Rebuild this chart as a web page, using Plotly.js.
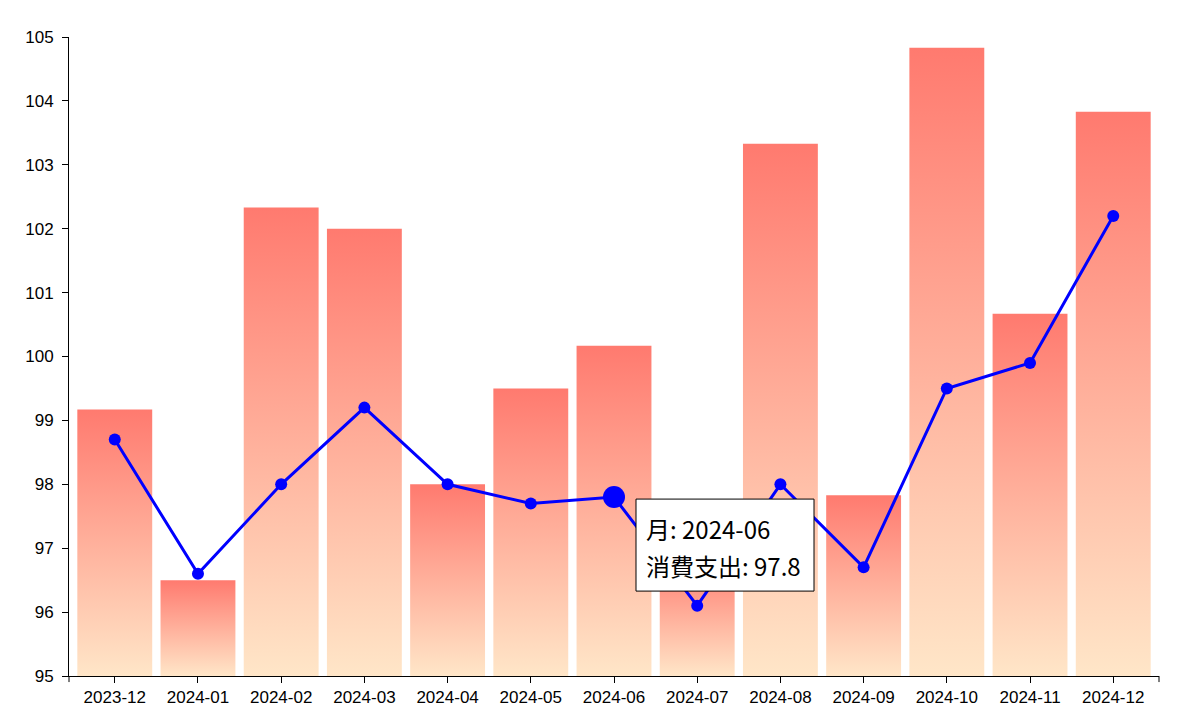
<!DOCTYPE html>
<html>
<head>
<meta charset="utf-8">
<script src="https://cdn.plot.ly/plotly-3.0.1.min.js"></script>
<style>
  html, body { margin: 0; padding: 0; background: #fff; }
  #chart { width: 1200px; height: 715px; }
</style>
</head>
<body>
<div id="chart"></div>
<script>
// monthly index values
const months = ["2023-12", "2024-01", "2024-02", "2024-03", "2024-04", "2024-05", "2024-06",
  "2024-07", "2024-08", "2024-09", "2024-10", "2024-11", "2024-12"];
const barValues = [99.17, 96.5, 102.33, 102.0, 98.0, 99.5, 100.17, 96.83, 103.33, 97.83, 104.83, 100.67, 103.83];
const spending = [98.7, 96.6, 98.0, 99.2, 98.0, 97.7, 97.8, 96.1, 98.0, 96.7, 99.5, 99.9, 102.2];
const yTicks = [95, 96, 97, 98, 99, 100, 101, 102, 103, 104, 105];

// the month whose tooltip is shown
const hoverMonth = "2024-06";
const hi = months.indexOf(hoverMonth);

const tickFont = { family: "Liberation Sans, Arial, sans-serif", size: 17, color: "#000" };
const tipFont = { family: "Noto Sans CJK JP, sans-serif", size: 24, color: "#000" };

var bars = {
  x: months,
  y: barValues,
  type: "bar",
  marker: { color: "#ffa98e", line: { width: 0 } },
  hoverinfo: "skip",
  showlegend: false,
};

var line = {
  x: months,
  y: spending,
  type: "scatter",
  mode: "lines+markers",
  line: { color: "#0000ff", width: 3 },
  marker: {
    color: "#0000ff",
    opacity: 1,
    size: months.map((m, i) => (i === hi ? 22 : 12)),
    line: { width: 0 },
  },
  showlegend: false,
};

var layout = {
  width: 1200,
  height: 715,
  margin: { l: 69, r: 41, t: 37, b: 39 },
  paper_bgcolor: "#fff",
  plot_bgcolor: "#fff",
  bargap: 0.1,
  xaxis: {
    type: "category",
    range: [-0.55, months.length - 0.45],
    showgrid: false,
    zeroline: false,
    showline: true,
    linecolor: "#000",
    linewidth: 1,
    ticks: "outside",
    ticklen: 6,
    tickcolor: "#000",
    tickfont: tickFont,
  },
  yaxis: {
    range: [95, 105],
    tickvals: yTicks,
    showgrid: false,
    zeroline: false,
    showline: true,
    linecolor: "#000",
    linewidth: 1,
    ticks: "outside",
    ticklen: 6,
    tickcolor: "#000",
    tickfont: tickFont,
    ticklabelstandoff: 5,
  },
  shapes: [
    // outer ticks at the ends of the x domain
    ...[0, 1].map((px) => ({
      type: "line",
      xref: "paper",
      yref: "paper",
      x0: px,
      x1: px,
      y0: 0,
      y1: -0.0095,
      line: { color: "#000", width: 1 },
    })),
    // tooltip box, offset in pixels from the hovered point
    {
      type: "rect",
      xref: "x",
      yref: "y",
      xsizemode: "pixel",
      ysizemode: "pixel",
      xanchor: hi,
      yanchor: spending[hi],
      x0: 22,
      x1: 200,
      y0: -2,
      y1: -94,
      fillcolor: "#fff",
      line: { color: "#000", width: 1 },
      layer: "above",
    },
  ],
  annotations: [
    ["月: " + months[hi], -31],
    ["消費支出: " + spending[hi], -68],
  ].map(([txt, dy]) => ({
    x: months[hi],
    y: spending[hi],
    xref: "x",
    yref: "y",
    text: txt,
    showarrow: false,
    xanchor: "left",
    yanchor: "middle",
    xshift: 30,
    yshift: dy,
    align: "left",
    font: tipFont,
  })),
};

// paint each bar with its own vertical gradient, from its top (red)
// down to the bottom of the plot area (peach); bars start at 0 so the
// path runs far below the clip and the gradient has to stop at the axis
function paintBars() {
  var svg = document.querySelector("#chart .main-svg");
  if (!svg || !el._fullLayout) return;
  var ns = "http://www.w3.org/2000/svg";
  var defs = svg.querySelector("defs");
  var bottom = el._fullLayout._size.h;
  document.querySelectorAll("#chart .barlayer .point path").forEach(function (p, i) {
    var bb = p.getBBox();
    var id = "barGrad" + i;
    var old = document.getElementById(id);
    if (old) old.remove();
    var grad = document.createElementNS(ns, "linearGradient");
    grad.setAttribute("id", id);
    grad.setAttribute("gradientUnits", "userSpaceOnUse");
    grad.setAttribute("x1", 0);
    grad.setAttribute("x2", 0);
    grad.setAttribute("y1", bb.y);
    grad.setAttribute("y2", bottom);
    [["0", "#ff7a6f"], ["1", "#ffe6c8"]].forEach(function (s) {
      var stop = document.createElementNS(ns, "stop");
      stop.setAttribute("offset", s[0]);
      stop.setAttribute("stop-color", s[1]);
      grad.appendChild(stop);
    });
    defs.appendChild(grad);
    p.style.fill = "url(#" + id + ")";
    p.style.fillOpacity = 1;
  });
}

var el = document.getElementById("chart");
Plotly.newPlot(el, [bars, line], layout, { displayModeBar: false }).then(function () {
  paintBars();
  el.on("plotly_afterplot", paintBars);
});
</script>
</body>
</html>
